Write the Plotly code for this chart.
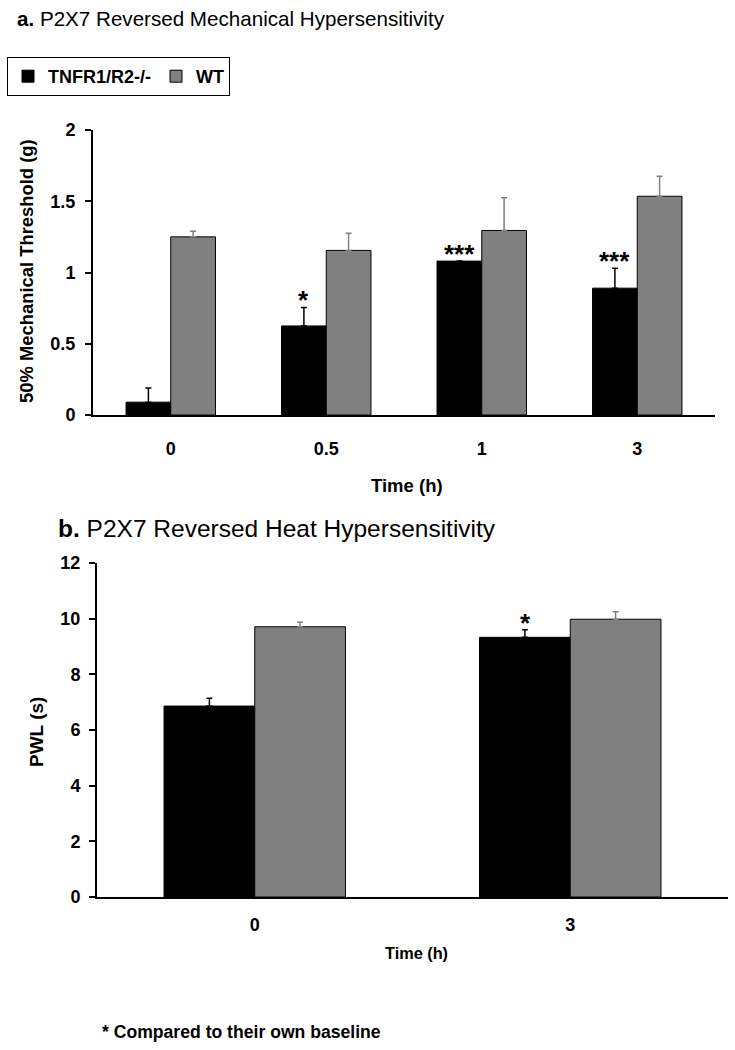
import plotly.graph_objects as go

# ---------------- data ----------------
times_a = ["0", "0.5", "1", "3"]
ko_a = [0.09, 0.625, 1.08, 0.89]
ko_a_err = [0.10, 0.13, 0.0, 0.14]
wt_a = [1.25, 1.155, 1.295, 1.535]
wt_a_err = [0.04, 0.12, 0.23, 0.14]
sig_a = ["", "*", "***", "***"]

times_b = ["0", "3"]
ko_b = [6.86, 9.33]
ko_b_err = [0.28, 0.27]
wt_b = [9.71, 9.98]
wt_b_err = [0.16, 0.27]
sig_b = ["", "*"]

W, H = 735, 1050
FONT = "Liberation Sans, Arial, sans-serif"
BLACK = "#000000"
GRAY = "#808080"


def px(x):
    return x / W


def py(y):
    return 1 - y / H


fig = go.Figure()

# panel a
fig.add_trace(go.Bar(
    x=times_a, y=ko_a, name="TNFR1/R2-/-", xaxis="x", yaxis="y",
    marker=dict(color=BLACK, line=dict(color=BLACK, width=1)),
    error_y=dict(type="data", array=ko_a_err, arrayminus=[0] * 4, symmetric=False,
                 color=BLACK, thickness=1.5, width=3),
    legendgroup="ko",
))
fig.add_trace(go.Bar(
    x=times_a, y=wt_a, name="WT", xaxis="x", yaxis="y",
    marker=dict(color=GRAY, line=dict(color=BLACK, width=1)),
    error_y=dict(type="data", array=wt_a_err, arrayminus=[0] * 4, symmetric=False,
                 color=GRAY, thickness=1.5, width=3),
    legendgroup="wt",
))
# panel b
fig.add_trace(go.Bar(
    x=times_b, y=ko_b, name="TNFR1/R2-/-", xaxis="x2", yaxis="y2", showlegend=False,
    marker=dict(color=BLACK, line=dict(color=BLACK, width=1)),
    error_y=dict(type="data", array=ko_b_err, arrayminus=[0] * 2, symmetric=False,
                 color=BLACK, thickness=1.5, width=3),
    legendgroup="ko",
))
fig.add_trace(go.Bar(
    x=times_b, y=wt_b, name="WT", xaxis="x2", yaxis="y2", showlegend=False,
    marker=dict(color=GRAY, line=dict(color=BLACK, width=1)),
    error_y=dict(type="data", array=wt_b_err, arrayminus=[0] * 2, symmetric=False,
                 color=GRAY, thickness=1.5, width=3),
    legendgroup="wt",
))

annotations = []
# significance stars (x given as category index)
for i, (v, e, s) in enumerate(zip(ko_a, ko_a_err, sig_a)):
    if s:
        annotations.append(dict(x=i, y=v + e, xref="x", yref="y", text="<b>" + s + "</b>",
                                showarrow=False, xshift=-22.5, xanchor="center",
                                yanchor="bottom", yshift=-10,
                                font=dict(family=FONT, size=26, color=BLACK)))
for i, (v, e, s) in enumerate(zip(ko_b, ko_b_err, sig_b)):
    if s:
        annotations.append(dict(x=i, y=v + e, xref="x2", yref="y2", text="<b>" + s + "</b>",
                                showarrow=False, xshift=-45, xanchor="center",
                                yanchor="bottom", yshift=-10,
                                font=dict(family=FONT, size=26, color=BLACK)))

# titles
annotations.append(dict(x=px(15), y=py(19), xref="paper", yref="paper", xanchor="left",
                        yanchor="middle", showarrow=False,
                        text="<b>a.</b> P2X7 Reversed Mechanical Hypersensitivity",
                        font=dict(family=FONT, size=20.6, color=BLACK)))
annotations.append(dict(x=px(56), y=py(528), xref="paper", yref="paper", xanchor="left",
                        yanchor="middle", showarrow=False,
                        text="<b>b.</b> P2X7 Reversed Heat Hypersensitivity",
                        font=dict(family=FONT, size=24.5, color=BLACK)))
# axis titles
annotations.append(dict(x=px(26), y=py(271), xref="paper", yref="paper", textangle=-90,
                        xanchor="center", yanchor="middle",
                        showarrow=False, text="<b>50% Mechanical Threshold (g)</b>",
                        font=dict(family=FONT, size=18.4, color=BLACK)))
annotations.append(dict(x=px(36), y=py(732), xref="paper", yref="paper", textangle=-90,
                        xanchor="center", yanchor="middle",
                        showarrow=False, text="<b>PWL (s)</b>",
                        font=dict(family=FONT, size=19, color=BLACK)))
annotations.append(dict(x=px(407), y=py(485), xref="paper", yref="paper",
                        xanchor="center", yanchor="middle",
                        showarrow=False, text="<b>Time (h)</b>",
                        font=dict(family=FONT, size=18.5, color=BLACK)))
annotations.append(dict(x=px(416), y=py(953), xref="paper", yref="paper",
                        xanchor="center", yanchor="middle",
                        showarrow=False, text="<b>Time (h)</b>",
                        font=dict(family=FONT, size=16.3, color=BLACK)))
# footnote
annotations.append(dict(x=px(100), y=py(1032), xref="paper", yref="paper", xanchor="left",
                        yanchor="middle",
                        showarrow=False, text="<b>* Compared to their own baseline</b>",
                        font=dict(family=FONT, size=17.6, color=BLACK)))

axis_common = dict(showgrid=False, zeroline=False, showline=True, linecolor=BLACK,
                   linewidth=2, automargin=False, fixedrange=True)

fig.update_layout(
    template="none",
    width=W, height=H,
    margin=dict(l=0, r=0, t=0, b=0, pad=0, autoexpand=False),
    paper_bgcolor="white", plot_bgcolor="white",
    barmode="group", bargap=0.425, bargroupgap=0,
    font=dict(family=FONT, color=BLACK),
    showlegend=True,
    hovermode=False,
    legend=dict(orientation="h", x=px(7), y=py(57), xanchor="left", yanchor="top",
                bordercolor=BLACK, borderwidth=1, bgcolor="white",
                font=dict(family=FONT, size=18, color=BLACK, weight="bold"),
                itemwidth=30, traceorder="normal", itemclick=False),
    xaxis=dict(domain=[px(93), px(715)], anchor="y", type="category",
               range=[-0.5, len(times_a) - 0.5],
               tickfont=dict(family=FONT, size=18, color=BLACK, weight="bold"),
               ticks="", ticklabelstandoff=16, **axis_common),
    yaxis=dict(domain=[py(415), py(130)], anchor="x", range=[0, 2], dtick=0.5,
               ticks="outside", ticklen=6, tickwidth=2, tickcolor=BLACK,
               ticklabelstandoff=6,
               tickfont=dict(family=FONT, size=18, color=BLACK, weight="bold"),
               **axis_common),
    xaxis2=dict(domain=[px(97), px(728)], anchor="y2", type="category",
                range=[-0.5, len(times_b) - 0.5],
                tickfont=dict(family=FONT, size=18, color=BLACK, weight="bold"),
                ticks="", ticklabelstandoff=10, **axis_common),
    yaxis2=dict(domain=[py(897), py(563)], anchor="x2", range=[0, 12], dtick=2,
                ticks="outside", ticklen=6, tickwidth=2, tickcolor=BLACK,
                ticklabelstandoff=5,
                tickfont=dict(family=FONT, size=18, color=BLACK, weight="bold"),
                **axis_common),
    annotations=annotations,
)

fig.write_html("out.html",
               config={"displayModeBar": False},
               post_script="document.body.style.margin='0px';"
                           "document.body.style.overflow='hidden';")
